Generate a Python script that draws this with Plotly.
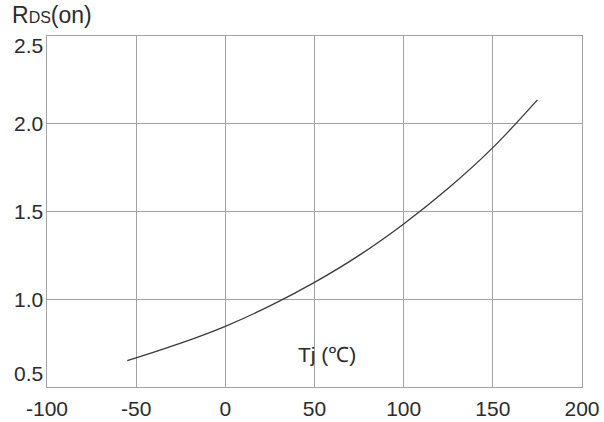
import plotly.graph_objects as go

# Normalized on-resistance vs. junction temperature
tj_c = [-55, -25, 0, 25, 50, 75, 100, 125, 150, 175]
rds_on_norm = [0.650, 0.750, 0.846, 0.962, 1.096, 1.250, 1.429, 1.632, 1.864, 2.136]

x_ticks = [-100, -50, 0, 50, 100, 150, 200]
x_tick_text = ["-100", "-50", "0", "50", "100", "150", "200"]
y_ticks = [0.5, 1.0, 1.5, 2.0, 2.5]
y_tick_text = ["0.5", "1.0", "1.5", "2.0", "2.5"]

FONT = "Liberation Sans, Arial, sans-serif"
GRID = "#a3a3a3"
TEXT = "#2b2b2b"
TICK_SIZE = 21

fig = go.Figure()
fig.add_trace(go.Scatter(
    x=tj_c, y=rds_on_norm, mode="lines",
    line=dict(color="#3a3a3a", width=1.3, shape="spline"),
    hoverinfo="skip", showlegend=False,
))

axis_common = dict(
    showgrid=True, gridcolor=GRID, gridwidth=1,
    showline=True, linecolor=GRID, linewidth=1, mirror=True,
    ticks="", zeroline=False, automargin=False,
)

fig.update_xaxes(
    range=[-100, 200], tickvals=x_ticks, ticktext=x_tick_text,
    tickfont=dict(family=FONT, size=TICK_SIZE, color=TEXT),
    ticklabelstandoff=3, **axis_common,
)
# y labels are drawn as annotations so the end labels sit inside the frame
fig.update_yaxes(range=[0.5, 2.5], tickvals=y_ticks, showticklabels=False, **axis_common)

for v, t in zip(y_ticks, y_tick_text):
    if v == y_ticks[0]:
        anchor, shift = "bottom", 0
    elif v == y_ticks[-1]:
        anchor, shift = "top", 4
    else:
        anchor, shift = "middle", 0
    fig.add_annotation(
        x=0, y=v, xref="paper", yref="y", xanchor="right", yanchor=anchor,
        xshift=-2, yshift=shift, showarrow=False, text=t,
        font=dict(family=FONT, size=TICK_SIZE, color=TEXT),
    )

fig.add_annotation(
    x=57, y=0.685, xref="x", yref="y", showarrow=False,
    text="Tj (℃)", font=dict(family=FONT, size=TICK_SIZE, color=TEXT),
)
fig.add_annotation(
    x=0, y=1, xref="paper", yref="paper", xanchor="center", yanchor="bottom",
    xshift=5, yshift=6, showarrow=False,
    text="R<span style='font-size:16px'>DS</span>(on)",
    font=dict(family=FONT, size=23, color=TEXT),
)

fig.update_layout(
    width=604, height=422,
    margin=dict(l=47, r=22, t=36, b=35),
    paper_bgcolor="white", plot_bgcolor="white",
)

fig.write_html("out.html")
